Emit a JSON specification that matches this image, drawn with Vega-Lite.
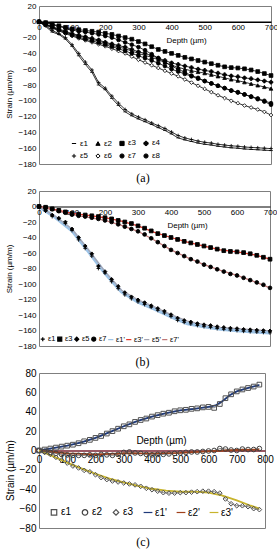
{
"$schema": "https://vega.github.io/schema/vega-lite/v6.json",
"padding": {"left": 4, "top": 1, "right": 0, "bottom": 0},
"bounds": "flush",
"spacing": 27,
"resolve": {"scale": {"stroke": "independent", "fill": "independent", "shape": "independent"}, "legend": {"stroke": "independent", "fill": "independent", "shape": "independent"}},
"datasets": {
"a": [
{"d":0,"s":"ε1","v":0},{"d":20,"s":"ε1","v":-6},{"d":40,"s":"ε1","v":-13},{"d":60,"s":"ε1","v":-16},{"d":80,"s":"ε1","v":-22},{"d":100,"s":"ε1","v":-31},{"d":120,"s":"ε1","v":-43},{"d":140,"s":"ε1","v":-54},{"d":160,"s":"ε1","v":-64},{"d":180,"s":"ε1","v":-80},{"d":200,"s":"ε1","v":-86},{"d":220,"s":"ε1","v":-97},{"d":240,"s":"ε1","v":-106},{"d":260,"s":"ε1","v":-114},{"d":280,"s":"ε1","v":-119},{"d":300,"s":"ε1","v":-123},{"d":320,"s":"ε1","v":-126.5},{"d":340,"s":"ε1","v":-130},{"d":360,"s":"ε1","v":-134},{"d":380,"s":"ε1","v":-137.5},{"d":400,"s":"ε1","v":-142},{"d":420,"s":"ε1","v":-147},{"d":440,"s":"ε1","v":-149.5},{"d":460,"s":"ε1","v":-151.5},{"d":480,"s":"ε1","v":-153.5},{"d":500,"s":"ε1","v":-155},{"d":520,"s":"ε1","v":-156},{"d":540,"s":"ε1","v":-157.5},{"d":560,"s":"ε1","v":-158.5},{"d":580,"s":"ε1","v":-159.5},{"d":600,"s":"ε1","v":-160},{"d":620,"s":"ε1","v":-161},{"d":640,"s":"ε1","v":-161.5},{"d":660,"s":"ε1","v":-162},{"d":680,"s":"ε1","v":-162.5},{"d":700,"s":"ε1","v":-163},
{"d":0,"s":"ε2","v":0},{"d":20,"s":"ε2","v":-3},{"d":40,"s":"ε2","v":-7},{"d":60,"s":"ε2","v":-10},{"d":80,"s":"ε2","v":-13},{"d":100,"s":"ε2","v":-16},{"d":120,"s":"ε2","v":-18},{"d":140,"s":"ε2","v":-20},{"d":160,"s":"ε2","v":-22},{"d":180,"s":"ε2","v":-24.5},{"d":200,"s":"ε2","v":-27},{"d":220,"s":"ε2","v":-29.5},{"d":240,"s":"ε2","v":-32},{"d":260,"s":"ε2","v":-34},{"d":280,"s":"ε2","v":-37},{"d":300,"s":"ε2","v":-40},{"d":320,"s":"ε2","v":-42.5},{"d":340,"s":"ε2","v":-45},{"d":360,"s":"ε2","v":-48},{"d":380,"s":"ε2","v":-51.5},{"d":400,"s":"ε2","v":-55},{"d":420,"s":"ε2","v":-57.5},{"d":440,"s":"ε2","v":-60},{"d":460,"s":"ε2","v":-62},{"d":480,"s":"ε2","v":-63.5},{"d":500,"s":"ε2","v":-65},{"d":520,"s":"ε2","v":-67},{"d":540,"s":"ε2","v":-69},{"d":560,"s":"ε2","v":-71},{"d":580,"s":"ε2","v":-73},{"d":600,"s":"ε2","v":-74.5},{"d":620,"s":"ε2","v":-76.5},{"d":640,"s":"ε2","v":-78.5},{"d":660,"s":"ε2","v":-80.5},{"d":680,"s":"ε2","v":-82.5},{"d":700,"s":"ε2","v":-84.5},
{"d":0,"s":"ε3","v":0},{"d":20,"s":"ε3","v":-1},{"d":40,"s":"ε3","v":-3},{"d":60,"s":"ε3","v":-5},{"d":80,"s":"ε3","v":-7},{"d":100,"s":"ε3","v":-9},{"d":120,"s":"ε3","v":-10},{"d":140,"s":"ε3","v":-11},{"d":160,"s":"ε3","v":-12},{"d":180,"s":"ε3","v":-13},{"d":200,"s":"ε3","v":-14.5},{"d":220,"s":"ε3","v":-16},{"d":240,"s":"ε3","v":-18},{"d":260,"s":"ε3","v":-20},{"d":280,"s":"ε3","v":-22},{"d":300,"s":"ε3","v":-25},{"d":320,"s":"ε3","v":-28},{"d":340,"s":"ε3","v":-31.5},{"d":360,"s":"ε3","v":-35},{"d":380,"s":"ε3","v":-37.5},{"d":400,"s":"ε3","v":-40},{"d":420,"s":"ε3","v":-42.5},{"d":440,"s":"ε3","v":-45},{"d":460,"s":"ε3","v":-47},{"d":480,"s":"ε3","v":-49},{"d":500,"s":"ε3","v":-51},{"d":520,"s":"ε3","v":-53},{"d":540,"s":"ε3","v":-55},{"d":560,"s":"ε3","v":-57},{"d":580,"s":"ε3","v":-58},{"d":600,"s":"ε3","v":-58.5},{"d":620,"s":"ε3","v":-59.5},{"d":640,"s":"ε3","v":-61},{"d":660,"s":"ε3","v":-63},{"d":680,"s":"ε3","v":-65.5},{"d":700,"s":"ε3","v":-68},
{"d":0,"s":"ε4","v":0},{"d":20,"s":"ε4","v":-3},{"d":40,"s":"ε4","v":-6},{"d":60,"s":"ε4","v":-9},{"d":80,"s":"ε4","v":-12},{"d":100,"s":"ε4","v":-15},{"d":120,"s":"ε4","v":-17},{"d":140,"s":"ε4","v":-19},{"d":160,"s":"ε4","v":-21},{"d":180,"s":"ε4","v":-23},{"d":200,"s":"ε4","v":-26},{"d":220,"s":"ε4","v":-28},{"d":240,"s":"ε4","v":-30},{"d":260,"s":"ε4","v":-32},{"d":280,"s":"ε4","v":-35},{"d":300,"s":"ε4","v":-38},{"d":320,"s":"ε4","v":-40},{"d":340,"s":"ε4","v":-43},{"d":360,"s":"ε4","v":-46},{"d":380,"s":"ε4","v":-49},{"d":400,"s":"ε4","v":-52},{"d":420,"s":"ε4","v":-54},{"d":440,"s":"ε4","v":-56},{"d":460,"s":"ε4","v":-58},{"d":480,"s":"ε4","v":-60},{"d":500,"s":"ε4","v":-61.5},{"d":520,"s":"ε4","v":-63},{"d":540,"s":"ε4","v":-65},{"d":560,"s":"ε4","v":-67},{"d":580,"s":"ε4","v":-68.5},{"d":600,"s":"ε4","v":-69.5},{"d":620,"s":"ε4","v":-71},{"d":640,"s":"ε4","v":-72},{"d":660,"s":"ε4","v":-73.5},{"d":680,"s":"ε4","v":-75},{"d":700,"s":"ε4","v":-76.5},
{"d":0,"s":"ε5","v":0},{"d":20,"s":"ε5","v":-5},{"d":40,"s":"ε5","v":-11},{"d":60,"s":"ε5","v":-15},{"d":80,"s":"ε5","v":-20},{"d":100,"s":"ε5","v":-29},{"d":120,"s":"ε5","v":-40},{"d":140,"s":"ε5","v":-51},{"d":160,"s":"ε5","v":-61},{"d":180,"s":"ε5","v":-77},{"d":200,"s":"ε5","v":-84},{"d":220,"s":"ε5","v":-94},{"d":240,"s":"ε5","v":-103},{"d":260,"s":"ε5","v":-111},{"d":280,"s":"ε5","v":-116.5},{"d":300,"s":"ε5","v":-120.5},{"d":320,"s":"ε5","v":-124},{"d":340,"s":"ε5","v":-128},{"d":360,"s":"ε5","v":-131.5},{"d":380,"s":"ε5","v":-135},{"d":400,"s":"ε5","v":-139.5},{"d":420,"s":"ε5","v":-144},{"d":440,"s":"ε5","v":-147},{"d":460,"s":"ε5","v":-149},{"d":480,"s":"ε5","v":-151},{"d":500,"s":"ε5","v":-152.5},{"d":520,"s":"ε5","v":-153.5},{"d":540,"s":"ε5","v":-155},{"d":560,"s":"ε5","v":-156},{"d":580,"s":"ε5","v":-157},{"d":600,"s":"ε5","v":-157.5},{"d":620,"s":"ε5","v":-158.5},{"d":640,"s":"ε5","v":-159},{"d":660,"s":"ε5","v":-159.5},{"d":680,"s":"ε5","v":-160},{"d":700,"s":"ε5","v":-160.5},
{"d":0,"s":"ε6","v":0},{"d":20,"s":"ε6","v":-4},{"d":40,"s":"ε6","v":-8},{"d":60,"s":"ε6","v":-11.5},{"d":80,"s":"ε6","v":-15},{"d":100,"s":"ε6","v":-18},{"d":120,"s":"ε6","v":-21},{"d":140,"s":"ε6","v":-23.5},{"d":160,"s":"ε6","v":-26},{"d":180,"s":"ε6","v":-28.5},{"d":200,"s":"ε6","v":-31},{"d":220,"s":"ε6","v":-34},{"d":240,"s":"ε6","v":-37},{"d":260,"s":"ε6","v":-40},{"d":280,"s":"ε6","v":-44},{"d":300,"s":"ε6","v":-48},{"d":320,"s":"ε6","v":-51.5},{"d":340,"s":"ε6","v":-55},{"d":360,"s":"ε6","v":-58.5},{"d":380,"s":"ε6","v":-62},{"d":400,"s":"ε6","v":-65.5},{"d":420,"s":"ε6","v":-69},{"d":440,"s":"ε6","v":-73},{"d":460,"s":"ε6","v":-77},{"d":480,"s":"ε6","v":-81},{"d":500,"s":"ε6","v":-85},{"d":520,"s":"ε6","v":-89},{"d":540,"s":"ε6","v":-93},{"d":560,"s":"ε6","v":-96.5},{"d":580,"s":"ε6","v":-100},{"d":600,"s":"ε6","v":-103},{"d":620,"s":"ε6","v":-106},{"d":640,"s":"ε6","v":-108.5},{"d":660,"s":"ε6","v":-111},{"d":680,"s":"ε6","v":-114},{"d":700,"s":"ε6","v":-118},
{"d":0,"s":"ε7","v":0},{"d":20,"s":"ε7","v":-1.5},{"d":40,"s":"ε7","v":-3.5},{"d":60,"s":"ε7","v":-6},{"d":80,"s":"ε7","v":-8},{"d":100,"s":"ε7","v":-10.5},{"d":120,"s":"ε7","v":-12},{"d":140,"s":"ε7","v":-13},{"d":160,"s":"ε7","v":-14.5},{"d":180,"s":"ε7","v":-16},{"d":200,"s":"ε7","v":-18},{"d":220,"s":"ε7","v":-20},{"d":240,"s":"ε7","v":-23},{"d":260,"s":"ε7","v":-26},{"d":280,"s":"ε7","v":-29},{"d":300,"s":"ε7","v":-32},{"d":320,"s":"ε7","v":-36},{"d":340,"s":"ε7","v":-41},{"d":360,"s":"ε7","v":-46},{"d":380,"s":"ε7","v":-51},{"d":400,"s":"ε7","v":-56},{"d":420,"s":"ε7","v":-60},{"d":440,"s":"ε7","v":-64},{"d":460,"s":"ε7","v":-68},{"d":480,"s":"ε7","v":-71},{"d":500,"s":"ε7","v":-75},{"d":520,"s":"ε7","v":-78},{"d":540,"s":"ε7","v":-81},{"d":560,"s":"ε7","v":-84},{"d":580,"s":"ε7","v":-87},{"d":600,"s":"ε7","v":-89},{"d":620,"s":"ε7","v":-92},{"d":640,"s":"ε7","v":-95},{"d":660,"s":"ε7","v":-98},{"d":680,"s":"ε7","v":-101},{"d":700,"s":"ε7","v":-105},
{"d":0,"s":"ε8","v":0},{"d":20,"s":"ε8","v":-3.5},{"d":40,"s":"ε8","v":-7},{"d":60,"s":"ε8","v":-10.5},{"d":80,"s":"ε8","v":-14},{"d":100,"s":"ε8","v":-17},{"d":120,"s":"ε8","v":-19.5},{"d":140,"s":"ε8","v":-22},{"d":160,"s":"ε8","v":-24},{"d":180,"s":"ε8","v":-26.5},{"d":200,"s":"ε8","v":-29},{"d":220,"s":"ε8","v":-31.5},{"d":240,"s":"ε8","v":-34},{"d":260,"s":"ε8","v":-37},{"d":280,"s":"ε8","v":-40},{"d":300,"s":"ε8","v":-43},{"d":320,"s":"ε8","v":-46},{"d":340,"s":"ε8","v":-49},{"d":360,"s":"ε8","v":-52.5},{"d":380,"s":"ε8","v":-56},{"d":400,"s":"ε8","v":-60},{"d":420,"s":"ε8","v":-63},{"d":440,"s":"ε8","v":-66},{"d":460,"s":"ε8","v":-69},{"d":480,"s":"ε8","v":-72},{"d":500,"s":"ε8","v":-75},{"d":520,"s":"ε8","v":-78},{"d":540,"s":"ε8","v":-81},{"d":560,"s":"ε8","v":-84},{"d":580,"s":"ε8","v":-87},{"d":600,"s":"ε8","v":-89.5},{"d":620,"s":"ε8","v":-92},{"d":640,"s":"ε8","v":-94.5},{"d":660,"s":"ε8","v":-97},{"d":680,"s":"ε8","v":-100},{"d":700,"s":"ε8","v":-103}
],
"bf": [
{"d":0,"s":"ε1'","v":0},{"d":50,"s":"ε1'","v":-14},{"d":100,"s":"ε1'","v":-31},{"d":150,"s":"ε1'","v":-58},{"d":200,"s":"ε1'","v":-86},{"d":250,"s":"ε1'","v":-110},{"d":300,"s":"ε1'","v":-123},{"d":350,"s":"ε1'","v":-132},{"d":400,"s":"ε1'","v":-142},{"d":450,"s":"ε1'","v":-151},{"d":500,"s":"ε1'","v":-155},{"d":550,"s":"ε1'","v":-158},{"d":600,"s":"ε1'","v":-160},{"d":650,"s":"ε1'","v":-161.5},{"d":700,"s":"ε1'","v":-163},
{"d":0,"s":"ε3'","v":0},{"d":50,"s":"ε3'","v":-4},{"d":100,"s":"ε3'","v":-9},{"d":150,"s":"ε3'","v":-11.5},{"d":200,"s":"ε3'","v":-14.5},{"d":250,"s":"ε3'","v":-19},{"d":300,"s":"ε3'","v":-25},{"d":350,"s":"ε3'","v":-33.5},{"d":400,"s":"ε3'","v":-40},{"d":450,"s":"ε3'","v":-46},{"d":500,"s":"ε3'","v":-51},{"d":550,"s":"ε3'","v":-56},{"d":600,"s":"ε3'","v":-58.5},{"d":650,"s":"ε3'","v":-62},{"d":700,"s":"ε3'","v":-68},
{"d":0,"s":"ε5'","v":0},{"d":50,"s":"ε5'","v":-13},{"d":100,"s":"ε5'","v":-29},{"d":150,"s":"ε5'","v":-56},{"d":200,"s":"ε5'","v":-84},{"d":250,"s":"ε5'","v":-108},{"d":300,"s":"ε5'","v":-120.5},{"d":350,"s":"ε5'","v":-129.5},{"d":400,"s":"ε5'","v":-139.5},{"d":450,"s":"ε5'","v":-148},{"d":500,"s":"ε5'","v":-152.5},{"d":550,"s":"ε5'","v":-156},{"d":600,"s":"ε5'","v":-157.5},{"d":650,"s":"ε5'","v":-159},{"d":700,"s":"ε5'","v":-160.5},
{"d":0,"s":"ε7'","v":0},{"d":50,"s":"ε7'","v":-5},{"d":100,"s":"ε7'","v":-10.5},{"d":150,"s":"ε7'","v":-14},{"d":200,"s":"ε7'","v":-18},{"d":250,"s":"ε7'","v":-24.5},{"d":300,"s":"ε7'","v":-32},{"d":350,"s":"ε7'","v":-43.5},{"d":400,"s":"ε7'","v":-56},{"d":450,"s":"ε7'","v":-66},{"d":500,"s":"ε7'","v":-75},{"d":550,"s":"ε7'","v":-82.5},{"d":600,"s":"ε7'","v":-89},{"d":650,"s":"ε7'","v":-96.5},{"d":700,"s":"ε7'","v":-105}
],
"c": [
{"d":0,"s":"ε1","v":0},{"d":20,"s":"ε1","v":1},{"d":40,"s":"ε1","v":2},{"d":60,"s":"ε1","v":3},{"d":80,"s":"ε1","v":4},{"d":100,"s":"ε1","v":5},{"d":120,"s":"ε1","v":6},{"d":140,"s":"ε1","v":7.5},{"d":160,"s":"ε1","v":9.5},{"d":180,"s":"ε1","v":11},{"d":200,"s":"ε1","v":13},{"d":220,"s":"ε1","v":15},{"d":240,"s":"ε1","v":17.5},{"d":260,"s":"ε1","v":20},{"d":280,"s":"ε1","v":22.5},{"d":300,"s":"ε1","v":25},{"d":320,"s":"ε1","v":27},{"d":340,"s":"ε1","v":29.5},{"d":360,"s":"ε1","v":31.5},{"d":380,"s":"ε1","v":33},{"d":400,"s":"ε1","v":35},{"d":420,"s":"ε1","v":36.5},{"d":440,"s":"ε1","v":38},{"d":460,"s":"ε1","v":39},{"d":480,"s":"ε1","v":40.5},{"d":500,"s":"ε1","v":41.5},{"d":520,"s":"ε1","v":42},{"d":540,"s":"ε1","v":43},{"d":560,"s":"ε1","v":43.5},{"d":580,"s":"ε1","v":44.5},{"d":600,"s":"ε1","v":45},{"d":620,"s":"ε1","v":44},{"d":640,"s":"ε1","v":48},{"d":660,"s":"ε1","v":54},{"d":680,"s":"ε1","v":58},{"d":700,"s":"ε1","v":61},{"d":720,"s":"ε1","v":63},{"d":740,"s":"ε1","v":64.5},{"d":760,"s":"ε1","v":66},{"d":780,"s":"ε1","v":68},
{"d":0,"s":"ε2","v":0},{"d":20,"s":"ε2","v":-1},{"d":40,"s":"ε2","v":-2},{"d":60,"s":"ε2","v":-3},{"d":80,"s":"ε2","v":-4},{"d":100,"s":"ε2","v":-4.5},{"d":120,"s":"ε2","v":-5},{"d":140,"s":"ε2","v":-5},{"d":160,"s":"ε2","v":-5},{"d":180,"s":"ε2","v":-4.5},{"d":200,"s":"ε2","v":-5},{"d":220,"s":"ε2","v":-4},{"d":240,"s":"ε2","v":-4.5},{"d":260,"s":"ε2","v":-5},{"d":280,"s":"ε2","v":-4},{"d":300,"s":"ε2","v":-2},{"d":320,"s":"ε2","v":-1.5},{"d":340,"s":"ε2","v":-2.5},{"d":360,"s":"ε2","v":-3},{"d":380,"s":"ε2","v":-4},{"d":400,"s":"ε2","v":-4.5},{"d":420,"s":"ε2","v":-4},{"d":440,"s":"ε2","v":-4},{"d":460,"s":"ε2","v":-3.5},{"d":480,"s":"ε2","v":-3},{"d":500,"s":"ε2","v":-2.5},{"d":520,"s":"ε2","v":-2},{"d":540,"s":"ε2","v":-1.5},{"d":560,"s":"ε2","v":-1.5},{"d":580,"s":"ε2","v":-1},{"d":600,"s":"ε2","v":-0.5},{"d":620,"s":"ε2","v":0},{"d":640,"s":"ε2","v":2},{"d":660,"s":"ε2","v":1.5},{"d":680,"s":"ε2","v":0.5},{"d":700,"s":"ε2","v":0},{"d":720,"s":"ε2","v":1.5},{"d":740,"s":"ε2","v":1},{"d":760,"s":"ε2","v":1},{"d":780,"s":"ε2","v":2},
{"d":0,"s":"ε3","v":0},{"d":20,"s":"ε3","v":-2},{"d":40,"s":"ε3","v":-4},{"d":60,"s":"ε3","v":-7},{"d":80,"s":"ε3","v":-10},{"d":100,"s":"ε3","v":-13},{"d":120,"s":"ε3","v":-16},{"d":140,"s":"ε3","v":-18},{"d":160,"s":"ε3","v":-20.5},{"d":180,"s":"ε3","v":-22},{"d":200,"s":"ε3","v":-25},{"d":220,"s":"ε3","v":-28},{"d":240,"s":"ε3","v":-30},{"d":260,"s":"ε3","v":-31.5},{"d":280,"s":"ε3","v":-32.5},{"d":300,"s":"ε3","v":-33.5},{"d":320,"s":"ε3","v":-34.5},{"d":340,"s":"ε3","v":-35.5},{"d":360,"s":"ε3","v":-37},{"d":380,"s":"ε3","v":-39},{"d":400,"s":"ε3","v":-40.5},{"d":420,"s":"ε3","v":-42},{"d":440,"s":"ε3","v":-43.5},{"d":460,"s":"ε3","v":-44},{"d":480,"s":"ε3","v":-44},{"d":500,"s":"ε3","v":-43.5},{"d":520,"s":"ε3","v":-43.5},{"d":540,"s":"ε3","v":-43},{"d":560,"s":"ε3","v":-42.5},{"d":580,"s":"ε3","v":-42},{"d":600,"s":"ε3","v":-42},{"d":620,"s":"ε3","v":-42.5},{"d":640,"s":"ε3","v":-44},{"d":660,"s":"ε3","v":-50},{"d":680,"s":"ε3","v":-55},{"d":700,"s":"ε3","v":-57},{"d":720,"s":"ε3","v":-57},{"d":740,"s":"ε3","v":-58},{"d":760,"s":"ε3","v":-60},{"d":780,"s":"ε3","v":-61}
],
"cf": [
{"d":0,"s":"ε1'","v":0},{"d":50,"s":"ε1'","v":2.5},{"d":100,"s":"ε1'","v":5},{"d":150,"s":"ε1'","v":8.5},{"d":200,"s":"ε1'","v":13},{"d":250,"s":"ε1'","v":19},{"d":300,"s":"ε1'","v":25},{"d":350,"s":"ε1'","v":30.5},{"d":400,"s":"ε1'","v":35},{"d":450,"s":"ε1'","v":38.5},{"d":500,"s":"ε1'","v":41.5},{"d":550,"s":"ε1'","v":43},{"d":600,"s":"ε1'","v":45},{"d":625,"s":"ε1'","v":46.5},{"d":650,"s":"ε1'","v":51},{"d":675,"s":"ε1'","v":57},{"d":700,"s":"ε1'","v":61},{"d":750,"s":"ε1'","v":65.5},{"d":780,"s":"ε1'","v":67.5},
{"d":0,"s":"ε2'","v":0},{"d":100,"s":"ε2'","v":-3},{"d":200,"s":"ε2'","v":-4},{"d":300,"s":"ε2'","v":-3},{"d":400,"s":"ε2'","v":-3},{"d":500,"s":"ε2'","v":-2.5},{"d":600,"s":"ε2'","v":-1},{"d":700,"s":"ε2'","v":0.5},{"d":780,"s":"ε2'","v":1},
{"d":0,"s":"ε3'","v":0},{"d":50,"s":"ε3'","v":-6},{"d":100,"s":"ε3'","v":-12.5},{"d":150,"s":"ε3'","v":-18.5},{"d":200,"s":"ε3'","v":-24},{"d":250,"s":"ε3'","v":-29},{"d":300,"s":"ε3'","v":-33},{"d":350,"s":"ε3'","v":-36.5},{"d":400,"s":"ε3'","v":-39.5},{"d":450,"s":"ε3'","v":-41.5},{"d":500,"s":"ε3'","v":-42.5},{"d":550,"s":"ε3'","v":-42.5},{"d":600,"s":"ε3'","v":-43.5},{"d":650,"s":"ε3'","v":-46.5},{"d":700,"s":"ε3'","v":-51.5},{"d":750,"s":"ε3'","v":-57},{"d":780,"s":"ε3'","v":-60}
]
},
"vconcat": [
{
"width": 232, "height": 158,
"title": {"text": "(a)", "orient": "bottom", "frame": "group", "offset": 10, "baseline": "middle", "font": "Liberation Serif", "fontSize": 12, "fontWeight": "normal", "anchor": "middle", "dx": -12},
"data": {"name": "a"},
"layer": [
{"mark": {"type": "line", "strokeWidth": 0.8},
"encoding": {
"x": {"field": "d", "type": "quantitative", "scale": {"domain": [0, 700], "nice": false}, "axis": {"orient": "bottom", "offset": -142.2, "tickCount": 7, "labelOverlap": false, "labelSeparation": 0, "labelBound": false, "title": "Depth  (µm)", "domainColor": "#000", "domainWidth": 1.6, "labelFontSize": 8, "labelPadding": 2, "titleFontSize": 8, "titleX": 147, "titleY": 19, "titleBaseline": "middle"}},
"y": {"field": "v", "type": "quantitative", "scale": {"domain": [-180, 20], "nice": false}, "axis": {"tickCount": 10, "labelOverlap": false, "labelSeparation": 0, "labelBound": false, "title": "Strain (µm/m)", "titleY": 88, "domain": false, "labelFontSize": 8, "labelPadding": 3, "titleFontSize": 8, "titlePadding": 4}},
"stroke": {"field": "s", "type": "nominal", "scale": {"domain": ["ε1","ε2","ε3","ε4","ε5","ε6","ε7","ε8"], "range": ["#000","#000","#000","#000","#000","#000","#000","#000"]}, "legend": {"orient": "none", "legendX": 31, "legendY": 133, "columns": 4, "direction": "horizontal", "title": null, "labelFontSize": 8, "symbolSize": 18, "symbolStrokeWidth": 1, "labelOffset": 2, "columnPadding": 4, "rowPadding": 3, "padding": 0}}
}},
{"mark": {"type": "point", "size": 14, "opacity": 1, "strokeWidth": 0.8},
"encoding": {
"x": {"field": "d", "type": "quantitative"},
"y": {"field": "v", "type": "quantitative"},
"stroke": {"field": "s", "type": "nominal", "legend": {"orient": "none", "legendX": 31, "legendY": 133, "columns": 4, "direction": "horizontal", "title": null, "labelFontSize": 8, "symbolSize": 18, "symbolStrokeWidth": 1, "labelOffset": 2, "columnPadding": 4, "rowPadding": 3, "padding": 0}},
"fill": {"field": "s", "type": "nominal", "scale": {"domain": ["ε1","ε2","ε3","ε4","ε5","ε6","ε7","ε8"], "range": ["#000","#000","#000","#000","#000","#fff","#000","#000"]}, "legend": {"orient": "none", "legendX": 31, "legendY": 133, "columns": 4, "direction": "horizontal", "title": null, "labelFontSize": 8, "symbolSize": 18, "symbolStrokeWidth": 1, "labelOffset": 2, "columnPadding": 4, "rowPadding": 3, "padding": 0}},
"shape": {"field": "s", "type": "nominal", "scale": {"domain": ["ε1","ε2","ε3","ε4","ε5","ε6","ε7","ε8"], "range": ["M-1,0H1","triangle-up","square","cross","M-1,0H1M0,-1V1","diamond","circle","circle"]}, "legend": {"orient": "none", "legendX": 31, "legendY": 133, "columns": 4, "direction": "horizontal", "title": null, "labelFontSize": 8, "symbolSize": 18, "symbolStrokeWidth": 1, "labelOffset": 2, "columnPadding": 4, "rowPadding": 3, "padding": 0}}
}}
]
},
{
"width": 231, "height": 155,
"title": {"text": "(b)", "orient": "bottom", "frame": "group", "offset": 12, "baseline": "middle", "font": "Liberation Serif", "fontSize": 12, "fontWeight": "normal", "anchor": "middle", "dx": -12},
"layer": [
{"data": {"name": "bf"}, "transform": [{"filter": {"field": "s", "equal": "ε1'"}}],
"mark": {"type": "line", "strokeWidth": 3.5},
"encoding": {
"x": {"field": "d", "type": "quantitative", "scale": {"domain": [0, 700], "nice": false}, "axis": {"orient": "bottom", "offset": -139.5, "tickCount": 7, "labelOverlap": false, "labelSeparation": 0, "labelBound": false, "title": "Depth  (µm)", "domainColor": "#000", "domainWidth": 1, "labelFontSize": 8, "labelPadding": 2, "titleFontSize": 8, "titleX": 148, "titleY": 19, "titleBaseline": "middle"}},
"y": {"field": "v", "type": "quantitative", "scale": {"domain": [-180, 20], "nice": false}, "axis": {"tickCount": 10, "labelOverlap": false, "labelSeparation": 0, "labelBound": false, "title": "Strain (µm/m)", "domain": false, "labelFontSize": 8, "labelPadding": 3, "titleFontSize": 8, "titlePadding": 4}},
"stroke": {"field": "s", "type": "nominal", "scale": {"domain": ["ε1","ε3","ε5","ε7","ε1'","ε3'","ε5'","ε7'"], "range": ["#000","#000","#000","#000","#9dc3e6","#e8382a","#a6a6b4","#c07878"]}, "legend": {"orient": "none", "legendX": 0, "legendY": 144, "columns": 8, "direction": "horizontal", "title": null, "labelFontSize": 7.5, "symbolSize": 16, "symbolStrokeWidth": 1.2, "labelOffset": 1.5, "columnPadding": -7, "padding": 0}}
}},
{"data": {"name": "bf"}, "transform": [{"filter": {"not": {"field": "s", "equal": "ε1'"}}}],
"mark": {"type": "line", "strokeWidth": 1.3},
"encoding": {
"x": {"field": "d", "type": "quantitative"},
"y": {"field": "v", "type": "quantitative"},
"stroke": {"field": "s", "type": "nominal", "legend": {"orient": "none", "legendX": 0, "legendY": 144, "columns": 8, "direction": "horizontal", "title": null, "labelFontSize": 7.5, "symbolSize": 16, "symbolStrokeWidth": 1.2, "labelOffset": 1.5, "columnPadding": -7, "padding": 0}}
}},
{"data": {"name": "a"}, "transform": [{"filter": {"field": "s", "oneOf": ["ε1","ε3","ε5","ε7"]}}],
"mark": {"type": "point", "size": 14, "opacity": 1, "strokeWidth": 0.9},
"encoding": {
"x": {"field": "d", "type": "quantitative"},
"y": {"field": "v", "type": "quantitative"},
"stroke": {"field": "s", "type": "nominal", "legend": {"orient": "none", "legendX": 0, "legendY": 144, "columns": 8, "direction": "horizontal", "title": null, "labelFontSize": 7.5, "symbolSize": 16, "symbolStrokeWidth": 1.2, "labelOffset": 1.5, "columnPadding": -7, "padding": 0}},
"fill": {"field": "s", "type": "nominal", "scale": {"domain": ["ε1","ε3","ε5","ε7","ε1'","ε3'","ε5'","ε7'"], "range": ["#000","#000","#000","#000","transparent","transparent","transparent","transparent"]}, "legend": {"orient": "none", "legendX": 0, "legendY": 144, "columns": 8, "direction": "horizontal", "title": null, "labelFontSize": 7.5, "symbolSize": 16, "symbolStrokeWidth": 1.2, "labelOffset": 1.5, "columnPadding": -7, "padding": 0}},
"shape": {"field": "s", "type": "nominal", "scale": {"domain": ["ε1","ε3","ε5","ε7","ε1'","ε3'","ε5'","ε7'"], "range": ["M-1,0H1M0,-1V1","square","diamond","circle","M-1.3,0H1.3","M-1.3,0H1.3","M-1.3,0H1.3","M-1.3,0H1.3"]}, "legend": {"orient": "none", "legendX": 0, "legendY": 144, "columns": 8, "direction": "horizontal", "title": null, "labelFontSize": 7.5, "symbolSize": 16, "symbolStrokeWidth": 1.2, "labelOffset": 1.5, "columnPadding": -7, "padding": 0}}
}}
]
},
{
"width": 226, "height": 155,
"title": {"text": "(c)", "orient": "bottom", "frame": "group", "offset": 9, "baseline": "middle", "font": "Liberation Serif", "fontSize": 12, "fontWeight": "normal", "anchor": "middle", "dx": -9},
"layer": [
{"data": {"name": "c"},
"mark": {"type": "line", "strokeWidth": 0.7},
"encoding": {
"x": {"field": "d", "type": "quantitative", "scale": {"domain": [0, 800], "nice": false}, "axis": {"orient": "bottom", "offset": -77.5, "tickCount": 8, "labelOverlap": false, "labelSeparation": 0, "labelBound": false, "title": "Depth (µm)", "domainColor": "#7a1f2f", "domainWidth": 1.5, "labelFontSize": 10, "labelPadding": 4, "titleFontSize": 10, "titleX": 122, "titleY": -10, "titleBaseline": "middle"}},
"y": {"field": "v", "type": "quantitative", "scale": {"domain": [-80, 80], "nice": false}, "axis": {"tickCount": 8, "labelOverlap": false, "labelSeparation": 0, "labelBound": false, "title": "Strain (µm/m)", "titleY": 97, "domain": false, "labelFontSize": 10, "labelPadding": 3, "titleFontSize": 10, "titlePadding": 4}},
"stroke": {"field": "s", "type": "nominal", "scale": {"domain": ["ε1","ε2","ε3","ε1'","ε2'","ε3'"], "range": ["#505050","#404040","#505050","#1f3a7a","#a0401a","#c8b42c"]}, "legend": {"orient": "none", "legendX": 10, "legendY": 134, "columns": 6, "direction": "horizontal", "title": null, "labelFontSize": 10, "symbolSize": 30, "symbolStrokeWidth": 1.2, "labelOffset": 2, "columnPadding": 7, "padding": 0}}
}},
{"data": {"name": "cf"},
"mark": {"type": "line", "strokeWidth": 1.8},
"encoding": {
"x": {"field": "d", "type": "quantitative"},
"y": {"field": "v", "type": "quantitative"},
"stroke": {"field": "s", "type": "nominal", "legend": {"orient": "none", "legendX": 10, "legendY": 134, "columns": 6, "direction": "horizontal", "title": null, "labelFontSize": 10, "symbolSize": 30, "symbolStrokeWidth": 1.2, "labelOffset": 2, "columnPadding": 7, "padding": 0}}
}},
{"data": {"name": "c"},
"mark": {"type": "point", "size": 22, "opacity": 1, "strokeWidth": 1},
"encoding": {
"x": {"field": "d", "type": "quantitative"},
"y": {"field": "v", "type": "quantitative"},
"stroke": {"field": "s", "type": "nominal", "legend": {"orient": "none", "legendX": 10, "legendY": 134, "columns": 6, "direction": "horizontal", "title": null, "labelFontSize": 10, "symbolSize": 30, "symbolStrokeWidth": 1.2, "labelOffset": 2, "columnPadding": 7, "padding": 0}},
"fill": {"field": "s", "type": "nominal", "scale": {"domain": ["ε1","ε2","ε3","ε1'","ε2'","ε3'"], "range": ["transparent","transparent","transparent","transparent","transparent","transparent"]}, "legend": {"orient": "none", "legendX": 10, "legendY": 134, "columns": 6, "direction": "horizontal", "title": null, "labelFontSize": 10, "symbolSize": 30, "symbolStrokeWidth": 1.2, "labelOffset": 2, "columnPadding": 7, "padding": 0}},
"shape": {"field": "s", "type": "nominal", "scale": {"domain": ["ε1","ε2","ε3","ε1'","ε2'","ε3'"], "range": ["square","circle","diamond","M-1.6,0H1.6","M-1.6,0H1.6","M-1.6,0H1.6"]}, "legend": {"orient": "none", "legendX": 10, "legendY": 134, "columns": 6, "direction": "horizontal", "title": null, "labelFontSize": 10, "symbolSize": 30, "symbolStrokeWidth": 1.2, "labelOffset": 2, "columnPadding": 7, "padding": 0}}
}}
]
}
],
"config": {
"font": "Liberation Sans",
"view": {"stroke": "#7f7f7f", "strokeWidth": 1},
"axis": {"grid": false, "ticks": false, "labelColor": "#000", "titleColor": "#000", "titleFontWeight": "normal", "labelFlush": false, "labelOverlap": false},
"legend": {"labelColor": "#000"},
"title": {"color": "#000"}
}
}
